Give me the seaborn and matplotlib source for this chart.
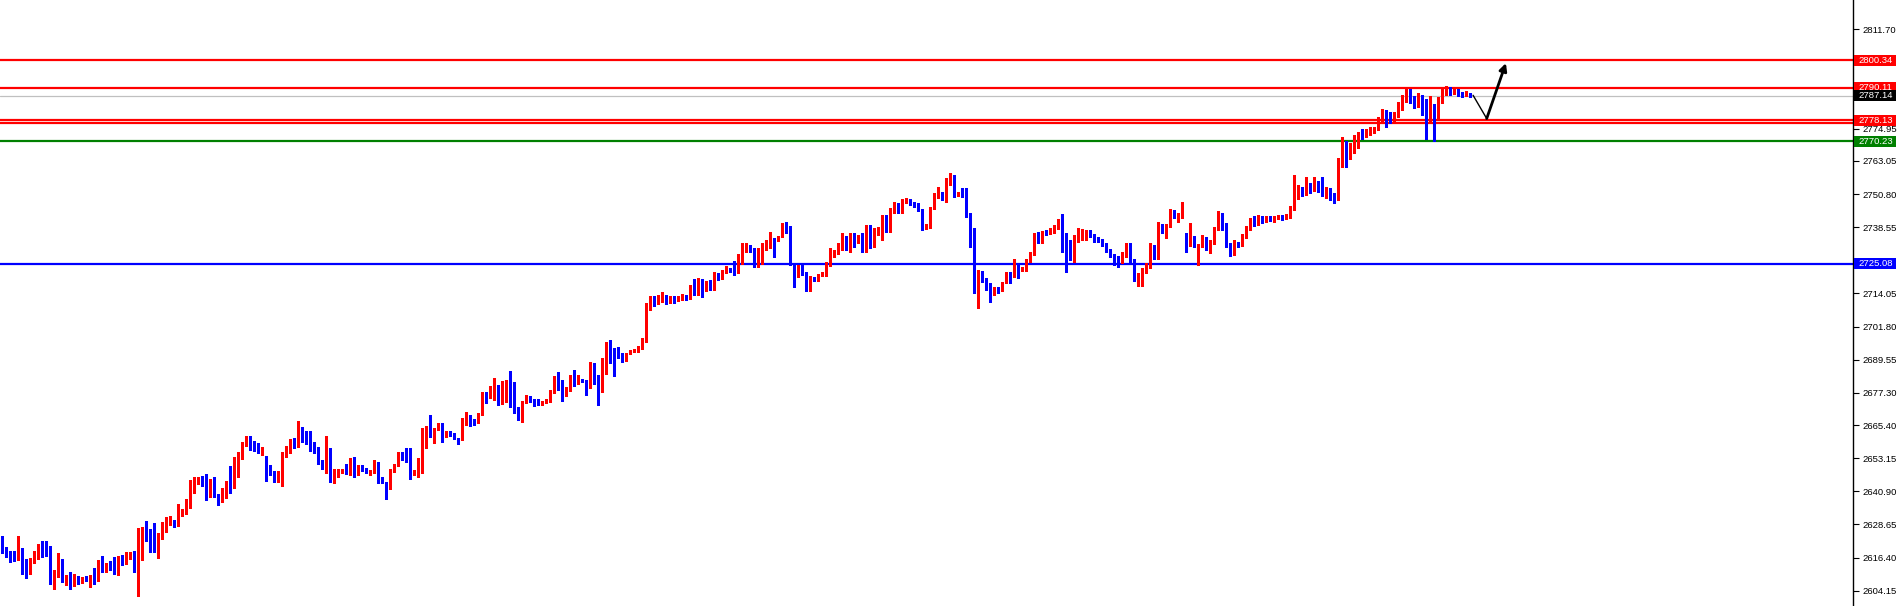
import numpy as np
import matplotlib
matplotlib.use("Agg")
import matplotlib.pyplot as plt
import matplotlib.transforms as mtransforms
from matplotlib.patches import Rectangle
import seaborn as sns

# ---------------- data ----------------
first_open = 2621.4
gap_opens = {66: 2652.1, 296: 2735.7}   # bar index -> open where a gap exists

close = [
    2619.6, 2618.2, 2617.1, 2615.5, 2620.0, 2612.7, 2611.6, 2616.3, 2618.1, 2621.1,
    2619.0, 2618.6, 2609.4, 2610.0, 2614.8, 2608.6, 2610.0, 2606.0, 2609.2, 2607.4,
    2608.9, 2608.1, 2609.6, 2608.9, 2615.1, 2611.4, 2614.0, 2612.9, 2612.2, 2616.6,
    2615.1, 2617.4, 2618.1, 2612.7, 2625.1, 2627.0, 2625.1, 2623.3, 2618.8, 2624.0,
    2626.6, 2629.2, 2630.3, 2628.1, 2633.3, 2634.0, 2638.1, 2642.5, 2645.5, 2645.8,
    2644.4, 2639.2, 2645.5, 2638.8, 2637.7, 2641.8, 2644.7, 2642.9, 2649.9, 2653.2,
    2658.8, 2660.6, 2659.1, 2658.4, 2655.8, 2656.9, 2650.3, 2647.3, 2644.7, 2645.8,
    2655.4, 2655.8, 2659.1, 2657.7, 2663.9, 2661.1, 2659.5, 2658.3, 2656.4, 2651.5,
    2650.6, 2656.5, 2645.3, 2646.6, 2648.4, 2648.5, 2647.6, 2652.9, 2648.8, 2650.3,
    2649.0, 2648.2, 2648.4, 2651.6, 2645.3, 2644.1, 2641.9, 2648.4, 2650.5, 2654.0,
    2653.2, 2652.7, 2646.9, 2648.4, 2648.8, 2659.9, 2664.6, 2661.5, 2663.8, 2665.5,
    2661.4, 2662.8, 2662.0, 2660.4, 2659.9, 2667.9, 2668.1, 2666.7, 2666.0, 2669.4,
    2677.3, 2675.9, 2679.6, 2680.3, 2673.4, 2678.3, 2681.8, 2675.0, 2672.2, 2670.0,
    2674.2, 2675.3, 2674.7, 2674.4, 2673.1, 2674.0, 2674.5, 2678.0, 2683.2, 2681.9,
    2676.5, 2679.1, 2683.7, 2681.1, 2682.1, 2681.8, 2679.2, 2687.6, 2680.8, 2680.3,
    2688.6, 2695.6, 2693.4, 2691.9, 2691.7, 2689.2, 2691.9, 2692.8, 2693.1, 2694.1,
    2696.5, 2709.0, 2712.0, 2710.5, 2712.5, 2713.0, 2711.5, 2712.5, 2711.5, 2712.9,
    2713.5, 2711.9, 2715.6, 2714.1, 2717.8, 2715.3, 2718.0, 2715.6, 2721.5, 2719.6,
    2722.4, 2723.3, 2722.7, 2722.2, 2726.4, 2731.1, 2731.6, 2730.1, 2724.0, 2730.4,
    2732.0, 2733.2, 2734.7, 2733.8, 2735.0, 2739.1, 2736.9, 2724.9, 2720.5, 2724.2,
    2722.1, 2715.3, 2720.0, 2719.0, 2720.9, 2721.5, 2724.9, 2728.3, 2729.1, 2730.7,
    2735.0, 2730.7, 2735.0, 2733.2, 2735.0, 2730.1, 2739.1, 2731.3, 2736.3, 2736.9,
    2741.8, 2737.5, 2745.1, 2746.7, 2744.3, 2748.6, 2748.8, 2747.4, 2746.7, 2744.9,
    2738.1, 2739.1, 2745.5, 2750.1, 2751.3, 2750.1, 2754.8, 2757.0, 2750.4, 2751.1,
    2749.8, 2743.1, 2737.1, 2717.8, 2721.5, 2719.0, 2716.6, 2714.1, 2715.9, 2715.3,
    2718.0, 2721.5, 2720.9, 2724.0, 2722.7, 2723.0, 2726.4, 2729.1, 2735.3, 2732.8,
    2736.9, 2736.0, 2737.5, 2738.7, 2739.0, 2733.2, 2732.0, 2731.1, 2733.8, 2735.7,
    2735.9, 2737.1, 2735.3, 2734.4, 2733.8, 2732.2, 2730.1, 2727.9, 2725.8, 2725.4,
    2728.9, 2732.6, 2726.4, 2719.3, 2720.9, 2722.7, 2724.6, 2732.0, 2727.4, 2738.7,
    2736.9, 2739.4, 2744.5, 2742.2, 2743.1, 2746.1, 2732.0, 2735.0, 2731.3, 2732.0,
    2733.8, 2732.6, 2733.2, 2738.1, 2740.0, 2739.4, 2731.3, 2729.5, 2732.6, 2732.0,
    2735.0, 2738.0, 2741.0, 2740.0, 2742.0, 2741.0, 2742.0, 2741.5, 2742.0, 2742.5,
    2741.8, 2742.5, 2745.5, 2750.0, 2752.5, 2751.0, 2754.0, 2752.5, 2754.5, 2753.0,
    2751.5, 2752.5, 2750.5, 2749.0, 2760.9, 2769.8, 2763.9, 2769.3, 2769.8, 2773.0,
    2771.8, 2774.5, 2774.7, 2775.1, 2778.5, 2781.4, 2780.0, 2778.8, 2780.0, 2782.9,
    2786.0, 2789.0, 2786.5, 2784.0, 2786.5, 2783.0, 2779.0, 2783.5, 2780.5, 2785.5,
    2788.5, 2789.5, 2788.5, 2789.0, 2788.0, 2787.5, 2788.0, 2787.14,
]

high = [
    2624.4, 2620.4, 2619.0, 2619.0, 2624.4, 2620.0, 2615.9, 2616.3, 2618.8, 2621.4,
    2622.5, 2622.5, 2620.7, 2611.8, 2618.1, 2615.9, 2610.0, 2611.1, 2610.3, 2609.6,
    2609.2, 2609.6, 2610.0, 2612.7, 2615.5, 2617.0, 2614.4, 2615.1, 2616.6, 2617.0,
    2617.4, 2618.5, 2618.5, 2618.8, 2627.3, 2627.7, 2629.9, 2627.0, 2629.2, 2625.5,
    2629.6, 2631.4, 2631.8, 2629.9, 2636.2, 2634.4, 2638.1, 2645.1, 2646.2, 2646.2,
    2646.6, 2647.3, 2645.5, 2646.2, 2639.9, 2642.1, 2644.7, 2650.3, 2653.6, 2655.4,
    2659.1, 2661.4, 2661.4, 2659.5, 2658.8, 2657.3, 2654.0, 2650.6, 2648.4, 2648.4,
    2655.4, 2657.7, 2660.2, 2660.6, 2666.9, 2664.8, 2663.2, 2663.2, 2659.3, 2657.2,
    2652.5, 2661.4, 2656.8, 2649.2, 2649.2, 2649.2, 2651.0, 2653.1, 2653.5, 2650.6,
    2650.6, 2649.5, 2648.8, 2652.5, 2651.9, 2646.1, 2644.5, 2649.2, 2651.0, 2655.6,
    2655.6, 2657.0, 2656.8, 2648.8, 2653.1, 2664.2, 2665.1, 2669.1, 2664.2, 2666.0,
    2666.0, 2663.2, 2663.2, 2662.6, 2660.6, 2668.1, 2670.2, 2669.1, 2667.5, 2669.7,
    2677.7, 2677.7, 2680.0, 2682.8, 2680.3, 2681.8, 2682.1, 2685.4, 2681.4, 2672.2,
    2674.2, 2676.5, 2676.1, 2675.2, 2674.9, 2674.3, 2674.9, 2678.4, 2683.5, 2685.0,
    2682.1, 2679.6, 2683.9, 2685.8, 2683.9, 2682.3, 2682.1, 2688.6, 2688.2, 2683.9,
    2690.2, 2696.2, 2696.8, 2693.8, 2694.1, 2691.9, 2692.2, 2693.1, 2693.5, 2694.6,
    2697.5, 2710.5, 2713.0, 2713.0, 2713.5, 2714.5, 2713.5, 2713.0, 2713.0, 2713.1,
    2714.0, 2713.5, 2717.2, 2719.3, 2719.6, 2719.3, 2718.8, 2719.0, 2722.1, 2721.5,
    2722.7, 2724.2, 2723.3, 2726.0, 2728.5, 2732.6, 2732.6, 2732.0, 2730.7, 2730.7,
    2732.6, 2733.8, 2736.9, 2734.7, 2735.3, 2740.0, 2740.3, 2739.1, 2725.2, 2724.6,
    2725.2, 2722.1, 2720.5, 2720.3, 2721.2, 2722.1, 2725.8, 2730.7, 2730.1, 2732.8,
    2736.3, 2735.3, 2736.3, 2736.3, 2735.7, 2736.3, 2739.4, 2739.4, 2738.1, 2738.7,
    2743.1, 2743.1, 2745.5, 2748.0, 2747.6, 2748.8, 2749.2, 2748.8, 2747.9, 2747.4,
    2745.3, 2739.7, 2746.1, 2751.3, 2753.5, 2751.6, 2756.6, 2758.5, 2757.8, 2751.6,
    2752.9, 2752.9, 2743.7, 2738.1, 2722.7, 2722.4, 2719.6, 2717.8, 2716.3, 2716.6,
    2718.4, 2722.1, 2722.1, 2726.7, 2724.6, 2724.0, 2726.7, 2729.5, 2736.3, 2736.9,
    2737.3, 2737.5, 2738.1, 2739.4, 2741.5, 2743.4, 2736.3, 2733.8, 2735.7, 2738.1,
    2737.8, 2737.5, 2737.5, 2736.0, 2735.0, 2734.0, 2732.8, 2730.4, 2728.5, 2727.9,
    2729.5, 2732.8, 2732.8, 2726.7, 2721.5, 2723.3, 2725.2, 2732.6, 2732.0, 2740.6,
    2739.9, 2739.9, 2745.3, 2744.9, 2743.7, 2748.0, 2736.3, 2740.0, 2735.3, 2732.4,
    2735.7, 2735.0, 2733.8, 2738.7, 2744.5, 2743.9, 2740.2, 2732.6, 2733.8, 2733.2,
    2736.0, 2739.0, 2742.0, 2742.5, 2743.0, 2742.5, 2742.5, 2742.8, 2742.5, 2743.0,
    2743.0, 2743.5, 2746.5, 2757.8, 2754.0, 2753.5, 2757.0, 2755.0, 2757.0, 2755.5,
    2757.0, 2753.5, 2753.0, 2751.0, 2764.2, 2771.8, 2770.3, 2769.5, 2772.5, 2773.9,
    2774.8, 2774.8, 2775.7, 2775.5, 2779.4, 2782.2, 2781.9, 2781.3, 2781.3, 2784.7,
    2787.5, 2790.3, 2789.5, 2787.0, 2788.0, 2787.5, 2786.0, 2787.0, 2784.0, 2786.5,
    2789.5, 2790.8, 2790.5, 2790.0, 2789.5, 2788.5, 2788.8, 2788.3,
]

low = [
    2618.2, 2616.7, 2614.9, 2615.1, 2615.5, 2610.5, 2609.0, 2610.5, 2614.5, 2615.9,
    2616.7, 2617.0, 2606.8, 2604.9, 2609.4, 2607.5, 2606.3, 2604.9, 2606.0, 2606.8,
    2607.1, 2607.8, 2605.7, 2606.8, 2607.9, 2611.1, 2611.1, 2611.8, 2610.3, 2610.1,
    2613.7, 2614.0, 2615.9, 2611.2, 2602.3, 2615.5, 2622.5, 2618.6, 2618.5, 2616.4,
    2623.3, 2625.9, 2628.5, 2627.7, 2628.1, 2631.8, 2632.5, 2634.7, 2640.3, 2643.6,
    2642.9, 2637.7, 2638.8, 2638.8, 2635.8, 2637.0, 2638.4, 2640.3, 2642.1, 2646.2,
    2652.9, 2657.7, 2656.2, 2655.8, 2655.1, 2654.3, 2644.7, 2646.9, 2644.4, 2644.4,
    2642.9, 2653.6, 2655.1, 2656.9, 2657.3, 2659.3, 2658.4, 2655.9, 2654.9, 2651.0,
    2649.0, 2647.6, 2644.5, 2643.9, 2646.1, 2647.6, 2647.4, 2646.9, 2646.1, 2646.9,
    2648.5, 2647.8, 2646.9, 2647.8, 2644.1, 2643.9, 2637.9, 2641.6, 2648.2, 2650.3,
    2652.5, 2651.9, 2645.6, 2646.9, 2646.1, 2647.6, 2657.0, 2661.1, 2658.9, 2663.6,
    2659.3, 2661.1, 2661.5, 2660.1, 2658.5, 2659.9, 2665.4, 2665.2, 2665.4, 2666.7,
    2669.1, 2673.4, 2675.3, 2674.7, 2672.8, 2673.0, 2674.0, 2672.2, 2670.0, 2667.3,
    2666.7, 2673.4, 2674.0, 2672.4, 2672.8, 2672.8, 2673.4, 2673.8, 2677.4, 2678.4,
    2674.4, 2676.1, 2678.1, 2679.8, 2680.6, 2681.4, 2676.5, 2679.2, 2680.6, 2672.8,
    2677.7, 2684.3, 2688.2, 2683.7, 2690.1, 2688.8, 2689.0, 2691.7, 2692.4, 2692.4,
    2693.5, 2696.0, 2708.0, 2709.5, 2710.0, 2711.0, 2710.0, 2710.5, 2710.5, 2711.4,
    2711.5, 2711.6, 2712.2, 2713.5, 2713.5, 2712.9, 2715.0, 2715.3, 2715.3, 2719.0,
    2719.3, 2721.5, 2722.1, 2720.9, 2721.5, 2724.9, 2729.5, 2729.5, 2723.7, 2723.7,
    2725.0, 2730.1, 2730.7, 2727.6, 2733.5, 2734.8, 2736.3, 2724.6, 2716.6, 2720.3,
    2720.9, 2715.1, 2715.1, 2718.8, 2718.8, 2720.5, 2720.5, 2724.2, 2727.6, 2728.5,
    2730.1, 2730.1, 2729.5, 2731.3, 2732.8, 2729.5, 2729.5, 2730.7, 2733.2, 2735.7,
    2733.8, 2736.9, 2736.9, 2743.9, 2743.7, 2743.9, 2747.6, 2746.7, 2746.1, 2744.7,
    2737.5, 2737.8, 2738.1, 2745.1, 2749.4, 2748.6, 2748.0, 2754.2, 2749.8, 2750.1,
    2749.6, 2742.4, 2731.3, 2714.1, 2708.5, 2718.4, 2715.3, 2711.0, 2713.5, 2714.1,
    2715.1, 2717.8, 2717.8, 2720.3, 2719.6, 2722.5, 2722.5, 2725.8, 2728.3, 2732.6,
    2732.6, 2735.7, 2736.0, 2736.3, 2737.8, 2729.5, 2722.1, 2726.4, 2725.8, 2733.2,
    2733.8, 2733.8, 2734.8, 2733.2, 2733.2, 2731.6, 2729.5, 2727.4, 2724.6, 2723.7,
    2725.2, 2727.6, 2725.8, 2718.8, 2716.8, 2716.8, 2721.5, 2723.3, 2726.7, 2726.7,
    2736.3, 2734.4, 2738.7, 2741.8, 2740.6, 2741.8, 2729.5, 2731.6, 2731.1, 2724.6,
    2731.3, 2730.1, 2728.9, 2732.3, 2737.5, 2737.5, 2731.1, 2727.9, 2728.3, 2731.3,
    2731.5, 2734.5, 2737.5, 2739.0, 2739.5, 2740.0, 2740.5, 2741.0, 2740.5, 2741.5,
    2741.2, 2741.5, 2742.0, 2745.0, 2749.0, 2750.0, 2750.5, 2751.0, 2752.0, 2751.5,
    2750.0, 2749.5, 2748.5, 2747.5, 2748.5, 2760.7, 2760.7, 2763.6, 2766.1, 2768.0,
    2771.0, 2771.8, 2772.6, 2773.2, 2774.5, 2777.5, 2775.7, 2777.2, 2777.5, 2779.4,
    2782.0, 2785.0, 2784.5, 2782.5, 2783.0, 2780.0, 2771.0, 2777.0, 2770.5, 2778.0,
    2784.5, 2787.5, 2787.5, 2787.8, 2787.0, 2786.8, 2787.0, 2786.5,
]

# horizontal levels
level_values = [2800.34, 2790.11, 2778.13, 2777.00, 2770.23, 2725.08]
level_colors = ["#FF0000", "#FF0000", "#FF0000", "#FF0000", "#008000", "#0000FF"]
level_labels = ["2800.34", "2790.11", "2778.13", None, "2770.23", "2725.08"]
bid_price = 2787.14

tick_values = [2811.70, 2774.95, 2763.05, 2750.80, 2738.55, 2714.05, 2701.80,
               2689.55, 2677.30, 2665.40, 2653.15, 2640.90, 2628.65, 2616.40, 2604.15]

# hand-drawn projection arrow (bar position, price)
arrow_bars = [367.7, 371.1, 375.9]
arrow_prices = [2787.3, 2778.7, 2799.2]

# ---------------- derived OHLC ----------------
n = min(len(close), len(high), len(low))
c = np.array(close[:n])
o = np.empty(n)
o[0] = first_open
o[1:] = c[:-1]
for k, v in gap_opens.items():
    if k < n:
        o[k] = v
h = np.maximum(np.array(high[:n]), np.maximum(o, c))
l = np.minimum(np.array(low[:n]), np.minimum(o, c))
x = np.arange(n)
bull = c >= o
cols = np.where(bull, "#FF0000", "#0000FF")

# ---------------- figure ----------------
sns.set_theme(style="white")
plt.rcParams["font.family"] = ["Liberation Sans", "DejaVu Sans"]

W, H = 1898, 606
fig = plt.figure(figsize=(W / 100, H / 100), dpi=100)
axr = 1853 / W
ax = fig.add_axes([0, 0, axr, 1])
ax.set_facecolor("white")

px_per_unit = 2.705
ymax = 2811.70 + 29.3 / px_per_unit
ymin = 2811.70 - (H - 29.3) / px_per_unit
ax.set_ylim(ymin, ymax)
ax.set_xlim(-0.575, -0.575 + 1853 / 4.0)

one_px = 1.0 / px_per_unit

# horizontal levels (under candles)
for v, col in zip(level_values, level_colors):
    ax.axhline(v, color=col, lw=1.6, zorder=1)
ax.axhline(bid_price, color="#C0C0C0", lw=0.9, zorder=1)

# wicks and bodies
ax.vlines(x, l, h, colors=cols, linewidth=0.75, zorder=3, antialiased=False)
body_bottom = np.minimum(o, c)
body_h = np.maximum(np.abs(c - o), one_px)
ax.bar(x, body_h, bottom=body_bottom, width=0.7, color=cols, linewidth=0,
       zorder=4, antialiased=False)

# projection arrow
sns.lineplot(x=arrow_bars[:2], y=arrow_prices[:2], ax=ax, color="black",
             lw=1.0, zorder=6, sort=False)
ax.annotate("", xy=(arrow_bars[2], arrow_prices[2]),
            xytext=(arrow_bars[1], arrow_prices[1]),
            arrowprops=dict(arrowstyle="-|>", color="black", lw=2.0,
                            mutation_scale=11, shrinkA=0, shrinkB=0),
            zorder=6)

# axis styling
sns.despine(ax=ax, left=True, top=True, bottom=True, right=False)
ax.spines["right"].set_color("black")
ax.spines["right"].set_linewidth(1.0)
ax.set_xticks([])
ax.yaxis.tick_right()
ax.set_yticks(tick_values)
ax.set_yticklabels([f"{t:.2f}" for t in tick_values])
ax.tick_params(axis="y", direction="out", length=4, width=0.8, color="black",
               labelsize=6.8, labelcolor="black", pad=2.5)
ax.grid(False)

# price-level label boxes at right
trans = mtransforms.blended_transform_factory(fig.transFigure, ax.transData)
box_h = 11 * one_px
bx0 = 1854 / W
bw = 42 / W
for v, col, lab in list(zip(level_values, level_colors, level_labels)) + [(bid_price, "#000000", "2787.14")]:
    if lab is None:
        continue
    ax.add_patch(Rectangle((bx0, v - box_h / 2), bw, box_h, transform=trans,
                           facecolor=col, edgecolor="none", clip_on=False, zorder=10))
    ax.text(1858 / W, v, lab, transform=trans, ha="left", va="center",
            color="white", fontsize=6.8, zorder=11, clip_on=False)

fig.savefig("out.png", dpi=100, facecolor="white")
